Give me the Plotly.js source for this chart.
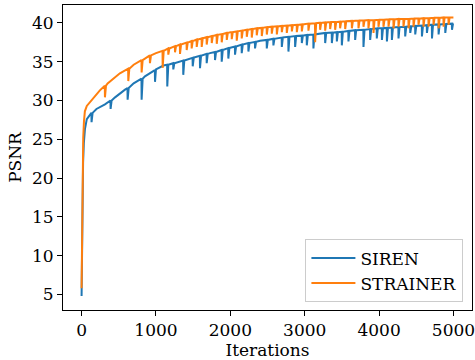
<!DOCTYPE html>
<html>
<head>
<meta charset="utf-8">
<script src="https://cdn.plot.ly/plotly-3.0.1.min.js"></script>
<style>html,body{margin:0;padding:0;background:#fff;}#chart{width:475px;height:360px;}</style>
</head>
<body>
<div id="chart"></div>
<script>
// ---- Data ----
const seriesNames = ["SIREN", "STRAINER"];
const xTickVals = [0, 1000, 2000, 3000, 4000, 5000];
const yTickVals = [5, 10, 15, 20, 25, 30, 35, 40];

// SIREN smooth envelope
const sirenBaseIter = [0,5,12,20,30,45,70,112,200,314,450,584,700,852,1000,1100,1300,1500,1727,2000,2200,2400,2700,3000,3400,3700,4000,4300,4700,4999];
const sirenBasePsnr = [4.8,12,18,22,24.5,26.3,27.6,28.2,28.9,29.5,30.4,31.4,32.2,33.1,34.0,34.5,35.0,35.5,36.1,36.8,37.3,37.7,38.1,38.4,38.8,39.05,39.3,39.5,39.75,39.9];
// SIREN dips (iteration, value just before dip, value at dip)
const sirenSpikeIter = [134,390,619,807,987,1152,1233,1367,1494,1592,1682,1794,1884,1973,2063,2153,2243,2332,2490,2579,2692,2781,2871,2961,3028,3117,3275,3365,3432,3499,3588,3678,3790,3880,3969,4038,4105,4172,4261,4351,4419,4486,4576,4643,4711,4800,4890,4980];
const sirenSpikeTop = [28.4,30.0,31.6,32.8,33.9,34.6,34.8,35.15,35.5,35.75,36.0,36.25,36.5,36.75,36.95,37.2,37.4,37.55,37.8,37.95,38.1,38.2,38.3,38.35,38.45,38.5,38.7,38.75,38.8,38.85,38.95,39.05,39.1,39.2,39.3,39.3,39.35,39.4,39.45,39.5,39.55,39.6,39.65,39.7,39.75,39.8,39.85,39.9];
const sirenSpikeDip = [27.2,28.9,30.1,30.1,32.4,31.8,34.0,33.3,34.4,34.15,34.8,35.2,35.0,35.4,35.9,36.1,36.3,36.7,36.7,37.1,36.9,36.3,36.9,37.4,37.1,36.7,37.4,37.4,37.6,37.1,37.6,37.8,36.9,37.8,38.0,37.8,37.6,37.8,38.0,38.25,38.7,38.5,38.25,38.7,38.0,38.5,38.7,39.1];

// STRAINER smooth envelope
const strainerBaseIter = [0,5,10,16,22,32,44,70,112,150,246,350,515,700,852,1000,1200,1400,1600,1800,2000,2400,2800,3200,3745,4300,4999];
const strainerBasePsnr = [5.8,13,19,23,25.2,27.3,28.6,29.3,29.8,30.3,31.3,32.2,33.5,34.6,35.4,36.1,36.8,37.4,37.95,38.4,38.8,39.35,39.7,40.0,40.3,40.5,40.7];
// STRAINER dips
const strainerSpikeIter = [314,628,807,919,1090,1166,1256,1323,1413,1480,1548,1615,1682,1750,1817,1884,1952,2019,2086,2153,2221,2288,2355,2423,2490,2557,2625,2692,2759,2827,2894,2961,3050,3140,3207,3275,3342,3409,3476,3544,3634,3723,3790,3857,3925,3992,4059,4127,4194,4261,4328,4396,4463,4530,4597,4665,4732,4800,4867,4934];
const strainerSpikeTop = [31.9,34.1,35.2,35.8,36.4,36.7,37.0,37.2,37.45,37.65,37.85,38.0,38.15,38.3,38.45,38.55,38.7,38.8,38.9,39.0,39.1,39.2,39.3,39.35,39.45,39.5,39.55,39.6,39.65,39.7,39.75,39.8,39.9,39.95,40.0,40.05,40.1,40.1,40.15,40.2,40.25,40.3,40.3,40.35,40.35,40.4,40.4,40.45,40.45,40.5,40.5,40.5,40.55,40.55,40.6,40.6,40.65,40.65,40.7,40.7];
const strainerSpikeDip = [30.4,32.5,33.6,34.8,34.2,35.9,36.2,36.0,36.5,36.7,36.9,36.9,37.2,37.4,37.3,37.5,37.8,37.9,37.7,38.0,38.2,38.1,38.4,38.3,38.5,38.6,38.5,38.8,38.7,38.9,38.8,38.9,39.0,37.5,39.1,39.0,39.2,39.1,39.3,39.2,39.3,39.3,39.5,39.3,38.7,39.5,39.5,39.5,39.3,39.5,39.5,39.3,39.5,39.75,39.5,39.5,39.75,39.3,39.5,39.75];

// Merge envelope points and dip groups in iteration order.
function buildSeries(bx, by, sx, stop, sdip) {
  const groups = [];
  bx.forEach((x, i) => groups.push({x: x, pts: [[x, by[i]]]}));
  sx.forEach((x, i) => groups.push({x: x, pts: [[x - 2, stop[i]], [x, sdip[i]], [x + 14, stop[i]]]}));
  groups.sort((a, b) => a.x - b.x);
  const xs = [], ys = [];
  groups.forEach(g => g.pts.forEach(p => { xs.push(p[0]); ys.push(p[1]); }));
  return {x: xs, y: ys};
}

const siren = buildSeries(sirenBaseIter, sirenBasePsnr, sirenSpikeIter, sirenSpikeTop, sirenSpikeDip);
const strainer = buildSeries(strainerBaseIter, strainerBasePsnr, strainerSpikeIter, strainerSpikeTop, strainerSpikeDip);

const FONT = "DejaVu Serif";
const FS = 17;
const traces = [
  {x: siren.x, y: siren.y, name: seriesNames[0], type: "scatter", mode: "lines",
   line: {color: "#1f77b4", width: 2}},
  {x: strainer.x, y: strainer.y, name: seriesNames[1], type: "scatter", mode: "lines",
   line: {color: "#ff7f0e", width: 2}}
];

const layout = {
  width: 475, height: 360,
  margin: {l: 63, r: 3, t: 5, b: 50},
  paper_bgcolor: "#ffffff", plot_bgcolor: "#ffffff",
  font: {family: FONT, size: FS, color: "#000"},
  showlegend: true,
  legend: {
    x: 0.979, y: 0.025, xanchor: "right", yanchor: "bottom",
    bgcolor: "rgba(255,255,255,0.8)", bordercolor: "#cccccc", borderwidth: 1,
    font: {family: FONT, size: FS, color: "#000"},
    tracegroupgap: 0, itemwidth: 44
  },
  xaxis: {
    range: [-250, 5249], tickmode: "array", tickvals: xTickVals,
    showgrid: false, zeroline: false,
    showline: true, mirror: true, linecolor: "#000", linewidth: 1,
    ticks: "outside", ticklen: 5, tickwidth: 1, tickcolor: "#000",
    ticklabeloverflow: "allow",
    tickfont: {family: FONT, size: FS, color: "#000"},
    title: {text: "Iterations", font: {family: FONT, size: FS, color: "#000"}, standoff: 2}
  },
  yaxis: {
    range: [3.0, 42.3], tickmode: "array", tickvals: yTickVals,
    showgrid: false, zeroline: false,
    showline: true, mirror: true, linecolor: "#000", linewidth: 1,
    ticks: "outside", ticklen: 5, tickwidth: 1, tickcolor: "#000",
    tickfont: {family: FONT, size: FS, color: "#000"},
    title: {text: "PSNR", font: {family: FONT, size: FS, color: "#000"}, standoff: 6}
  }
};

Plotly.newPlot("chart", traces, layout, {displayModeBar: false, staticPlot: true});
</script>
</body>
</html>
